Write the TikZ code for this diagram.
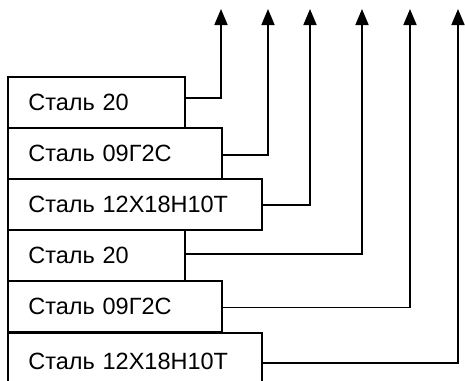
\documentclass[tikz,border=0pt]{standalone}
\usepackage{fontspec}
\setmainfont{Liberation Sans}
\usetikzlibrary{arrows.meta}
\tikzset{
  steelbox/.style={draw=black, line width=1.7pt, fill=white, anchor=north west,
    minimum height=51pt, inner xsep=20.5pt, inner ysep=0pt, align=left,
    font=\fontsize{23.5}{26}\selectfont},
  conn/.style={draw=black, line width=1.7pt, -{Triangle[width=13pt,length=16pt]}}
}
\begin{document}
\begin{tikzpicture}[x=1pt,y=-1pt]
\useasboundingbox (0,0) rectangle (465,380);
\clip (0,0) rectangle (465,380);
\node[steelbox, minimum width=177pt, text width=136pt] (b1) at (7,76) {Сталь 20};
\node[steelbox, minimum width=214pt, text width=173pt] (b2) at (7,127) {Сталь 09Г2С};
\node[steelbox, minimum width=254pt, text width=213pt] (b3) at (7,178) {Сталь 12Х18Н10Т};
\node[steelbox, minimum width=177pt, text width=136pt] (b4) at (7,229) {Сталь 20};
\node[steelbox, minimum width=214pt, text width=173pt] (b5) at (7,280) {Сталь 09Г2С};
\node[steelbox, minimum width=254pt, text width=213pt, minimum height=60pt] (b6) at (7,332) {\raisebox{4pt}{Сталь 12Х18Н10Т}};
\coordinate (t1) at (221,9);
\coordinate (t2) at (268,9);
\coordinate (t3) at (310,9);
\coordinate (t4) at (362,9);
\coordinate (t5) at (410,9);
\coordinate (t6) at (458,9);
\draw[conn] ([yshift=4.5pt]b1.east) -| (t1);
\draw[conn] ([yshift=-1.5pt]b2.east) -| (t2);
\draw[conn] ([yshift=-0.5pt]b3.east) -| (t3);
\draw[conn] ([yshift=1.5pt]b4.east) -| (t4);
\draw[conn] ([yshift=-1pt]b5.east) -| (t5);
\draw[conn] ([yshift=0pt]b6.east) -| (t6);
\end{tikzpicture}
\end{document}
